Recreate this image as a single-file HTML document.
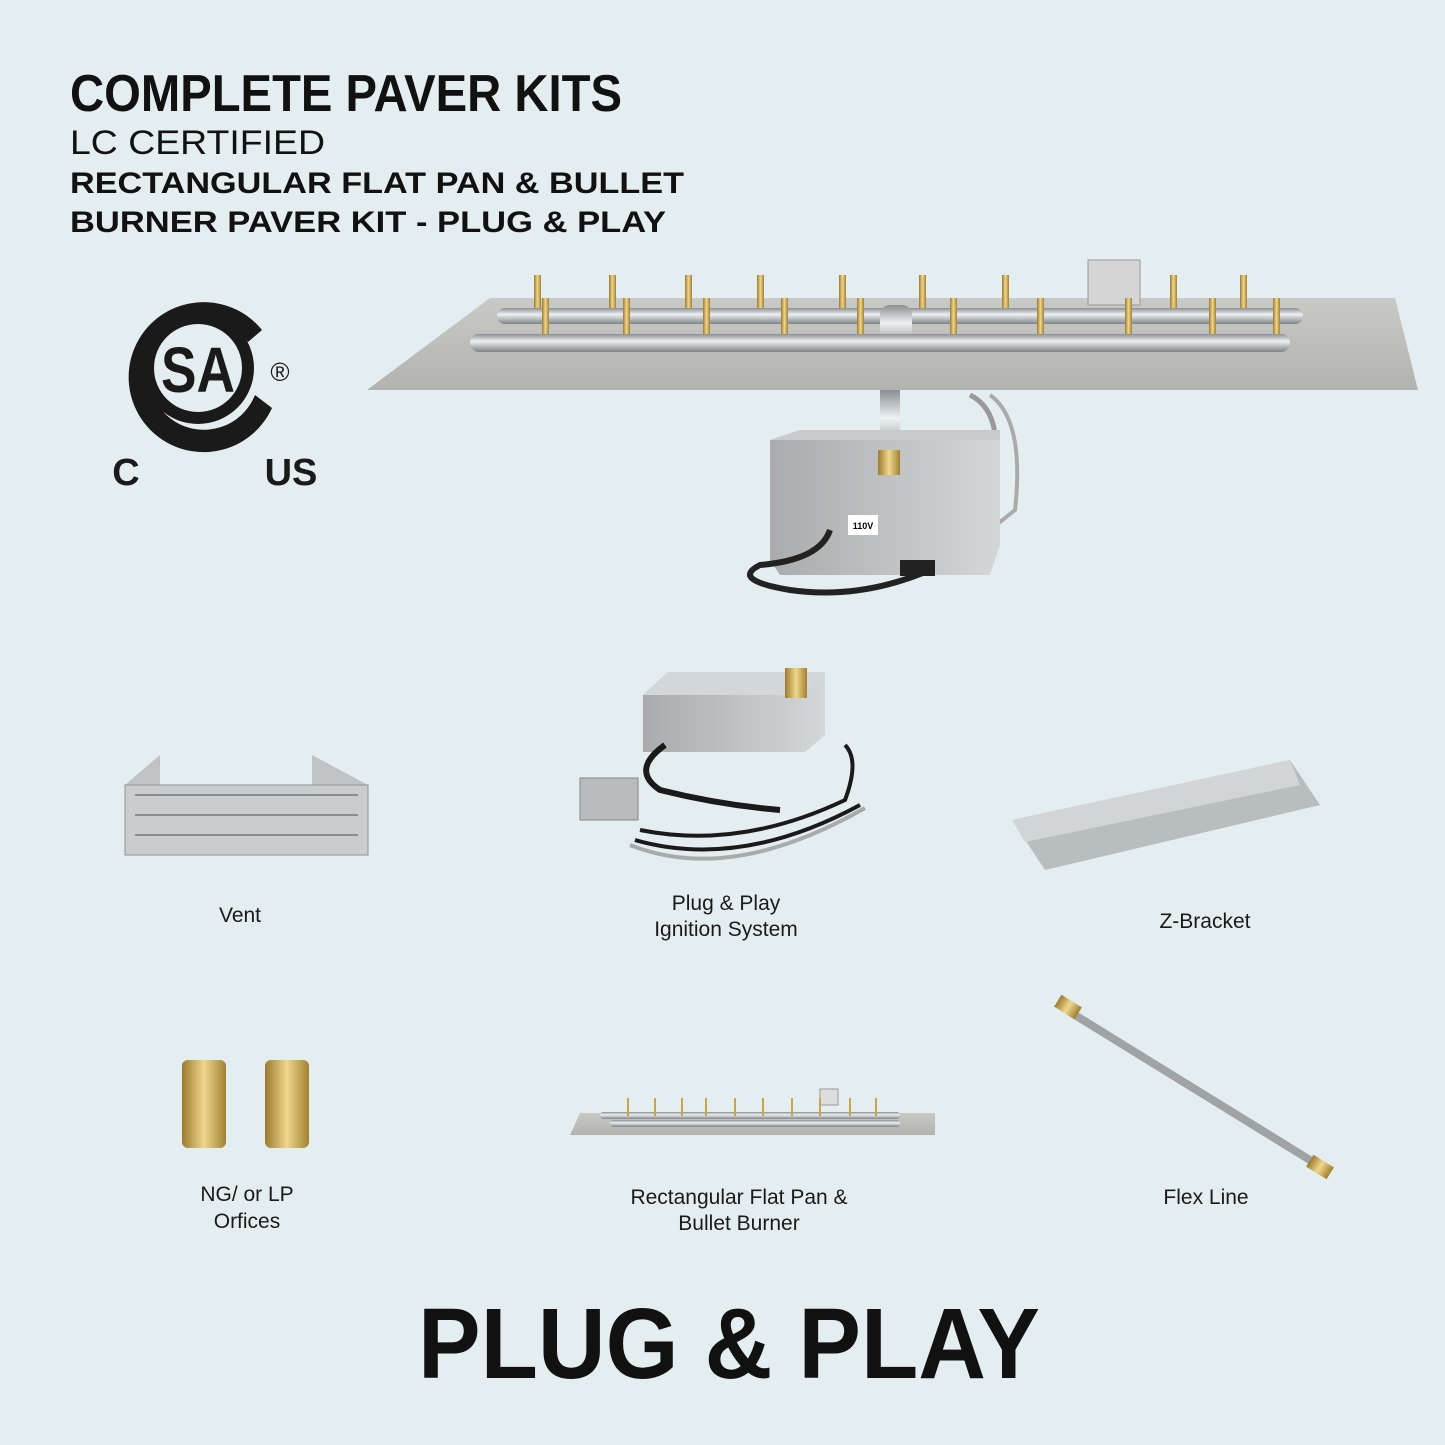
<!DOCTYPE html>
<html><head><meta charset="utf-8"><style>
html,body{margin:0;padding:0;background:#e4edef}
svg{display:block}
.t{font-family:"Liberation Sans",sans-serif;fill:#111}
.l{font-family:"Liberation Sans",sans-serif;font-size:21px;fill:#1a1a1a;text-anchor:middle}
</style></head><body>
<svg width="1445" height="1445" viewBox="0 0 1445 1445" xmlns="http://www.w3.org/2000/svg">
<defs>
<linearGradient id="pipe" x1="0" y1="0" x2="0" y2="1"><stop offset="0" stop-color="#8a8f93"/><stop offset=".4" stop-color="#eef0f1"/><stop offset="1" stop-color="#7d8387"/></linearGradient>
<linearGradient id="plate" x1="0" y1="0" x2="0" y2="1"><stop offset="0" stop-color="#c9c9c6"/><stop offset="1" stop-color="#b2b2ae"/></linearGradient>
<linearGradient id="brass" x1="0" y1="0" x2="1" y2="0"><stop offset="0" stop-color="#9b7a2e"/><stop offset=".5" stop-color="#f0d78e"/><stop offset="1" stop-color="#a0802f"/></linearGradient>
<linearGradient id="box" x1="0" y1="0" x2="1" y2="0"><stop offset="0" stop-color="#a9abac"/><stop offset="1" stop-color="#d4d6d7"/></linearGradient>
</defs>
<rect width="1445" height="1445" fill="#e4edef"/>
<text class="t" x="70" y="111" font-size="52" font-weight="bold" textLength="552" lengthAdjust="spacingAndGlyphs" font-family="Liberation Serif">COMPLETE PAVER KITS</text>
<text class="t" x="70" y="154" font-size="34" textLength="255" lengthAdjust="spacingAndGlyphs">LC CERTIFIED</text>
<text class="t" x="70" y="193" font-size="30" font-weight="bold" textLength="614" lengthAdjust="spacingAndGlyphs">RECTANGULAR FLAT PAN &amp; BULLET</text>
<text class="t" x="70" y="232" font-size="30" font-weight="bold" textLength="596" lengthAdjust="spacingAndGlyphs">BURNER PAVER KIT - PLUG &amp; PLAY</text>
<path d="M262 330 A75 75 0 1 0 272 408 L255 395 A55 55 0 1 1 248 342 Z" fill="#1a1a1a"/>
<circle cx="198" cy="368" r="56" fill="#1a1a1a"/>
<circle cx="198" cy="368" r="44" fill="#e4edef"/>
<text x="198" y="392" font-family="Liberation Sans" font-weight="bold" font-size="64" text-anchor="middle" fill="#1a1a1a" textLength="74" lengthAdjust="spacingAndGlyphs">SA</text>
<text x="280" y="381" font-family="Liberation Sans" font-size="26" text-anchor="middle" fill="#1a1a1a">®</text>
<text x="126" y="485" font-family="Liberation Sans" font-weight="bold" font-size="38" text-anchor="middle" fill="#1a1a1a">C</text>
<text x="291" y="485" font-family="Liberation Sans" font-weight="bold" font-size="38" text-anchor="middle" fill="#1a1a1a">US</text>
<polygon points="490,298 1395,298 1418,390 367,390" fill="url(#plate)"/>
<rect x="880" y="390" width="20" height="70" fill="url(#pipe)"/>
<path d="M970 395 Q1000 410 995 460 L985 470" stroke="#999" stroke-width="5" fill="none"/>
<path d="M990 395 Q1025 420 1015 510 L990 530" stroke="#aaa" stroke-width="4" fill="none"/>
<polygon points="770,440 1000,432 1000,545 990,575 780,575 770,560" fill="url(#box)"/>
<polygon points="770,440 800,430 1000,430 1000,440" fill="#c8cacb"/>
<rect x="878" y="450" width="22" height="25" fill="url(#brass)"/>
<rect x="848" y="515" width="30" height="20" fill="#fff"/>
<text x="863" y="529" font-family="Liberation Sans" font-size="9" font-weight="bold" text-anchor="middle">110V</text>
<path d="M830 530 Q820 560 760 565 Q730 580 790 590 Q860 600 930 570" stroke="#222" stroke-width="6" fill="none"/>
<rect x="900" y="560" width="35" height="16" fill="#222"/>
<g fill="url(#brass)">
<rect x="534" y="275" width="7" height="36"/><rect x="609" y="275" width="7" height="36"/><rect x="685" y="275" width="7" height="36"/><rect x="757" y="275" width="7" height="36"/><rect x="839" y="275" width="7" height="36"/><rect x="919" y="275" width="7" height="36"/><rect x="1002" y="275" width="7" height="36"/><rect x="1170" y="275" width="7" height="36"/><rect x="1240" y="275" width="7" height="36"/>
</g>
<rect x="497" y="308" width="806" height="16" rx="8" fill="url(#pipe)"/>
<rect x="1088" y="260" width="52" height="45" fill="#d5d5d5" stroke="#999"/>
<rect x="880" y="305" width="32" height="45" rx="10" fill="url(#pipe)"/>
<g fill="url(#brass)">
<rect x="542" y="298" width="7" height="40"/><rect x="623" y="298" width="7" height="40"/><rect x="703" y="298" width="7" height="40"/><rect x="781" y="298" width="7" height="40"/><rect x="857" y="298" width="7" height="40"/><rect x="950" y="298" width="7" height="40"/><rect x="1037" y="298" width="7" height="40"/><rect x="1125" y="298" width="7" height="40"/><rect x="1209" y="298" width="7" height="40"/><rect x="1273" y="298" width="7" height="40"/>
</g>
<rect x="470" y="334" width="820" height="18" rx="9" fill="url(#pipe)"/>
<polygon points="125,785 160,755 160,785" fill="#bfc3c5"/>
<polygon points="312,755 368,785 312,785" fill="#bfc3c5"/>
<rect x="125" y="785" width="243" height="70" fill="#c9cdcf" stroke="#8f9496"/>
<g fill="none" stroke="#888d90" stroke-width="2">
<path d="M135 795 H358 M135 815 H358 M135 835 H358"/>
</g>
<polygon points="643,695 668,672 825,672 825,735 805,752 643,752" fill="url(#box)"/>
<polygon points="643,695 668,672 825,672 805,695" fill="#d4d6d7"/>
<rect x="785" y="668" width="22" height="30" fill="url(#brass)"/>
<path d="M665 745 Q630 770 660 790 Q720 805 780 810" stroke="#1a1a1a" stroke-width="6" fill="none"/>
<path d="M640 830 Q740 850 845 800 Q860 760 845 745" stroke="#1a1a1a" stroke-width="4" fill="none"/>
<path d="M635 840 Q740 870 860 805" stroke="#1a1a1a" stroke-width="4" fill="none"/>
<path d="M630 845 Q730 885 865 808" stroke="#a8abad" stroke-width="4" fill="none"/>
<rect x="580" y="778" width="58" height="42" fill="#b9bcbe" stroke="#888"/>
<polygon points="1012,820 1290,760 1320,805 1045,870" fill="#b8bdbf"/>
<polygon points="1012,820 1290,760 1300,785 1025,842" fill="#d2d5d6"/>
<rect x="182" y="1060" width="44" height="88" rx="6" fill="url(#brass)"/>
<rect x="265" y="1060" width="44" height="88" rx="6" fill="url(#brass)"/>
<polygon points="580,1113 935,1113 935,1135 570,1135" fill="url(#plate)"/>
<rect x="600" y="1112" width="300" height="7" rx="3" fill="url(#pipe)"/>
<rect x="610" y="1120" width="290" height="7" rx="3" fill="url(#pipe)"/>
<rect x="820" y="1089" width="18" height="16" fill="#ddd" stroke="#999"/>
<g stroke="#c9a550" stroke-width="2"><path d="M628 1098v18M655 1098v18M682 1098v18M706 1098v18M735 1098v18M763 1098v18M792 1098v18M820 1098v18M850 1098v18M876 1098v18"/></g>
<line x1="1070" y1="1012" x2="1318" y2="1165" stroke="#9fa3a5" stroke-width="8" stroke-linecap="round"/>
<rect x="1056" y="1000" width="24" height="14" fill="url(#brass)" transform="rotate(32 1068 1007)"/>
<rect x="1308" y="1160" width="24" height="14" fill="url(#brass)" transform="rotate(32 1320 1167)"/>
<text class="l" x="240" y="922">Vent</text>
<text class="l" x="726" y="910">Plug &amp; Play</text>
<text class="l" x="726" y="936">Ignition System</text>
<text class="l" x="1205" y="928">Z-Bracket</text>
<text class="l" x="247" y="1201">NG/ or LP</text>
<text class="l" x="247" y="1228">Orfices</text>
<text class="l" x="739" y="1204">Rectangular Flat Pan &amp;</text>
<text class="l" x="739" y="1230">Bullet Burner</text>
<text class="l" x="1206" y="1204">Flex Line</text>
<text x="418" y="1378" font-family="Liberation Sans" font-weight="bold" font-size="100" fill="#111" textLength="622" lengthAdjust="spacingAndGlyphs">PLUG &amp; PLAY</text>
</svg>
</body></html>
